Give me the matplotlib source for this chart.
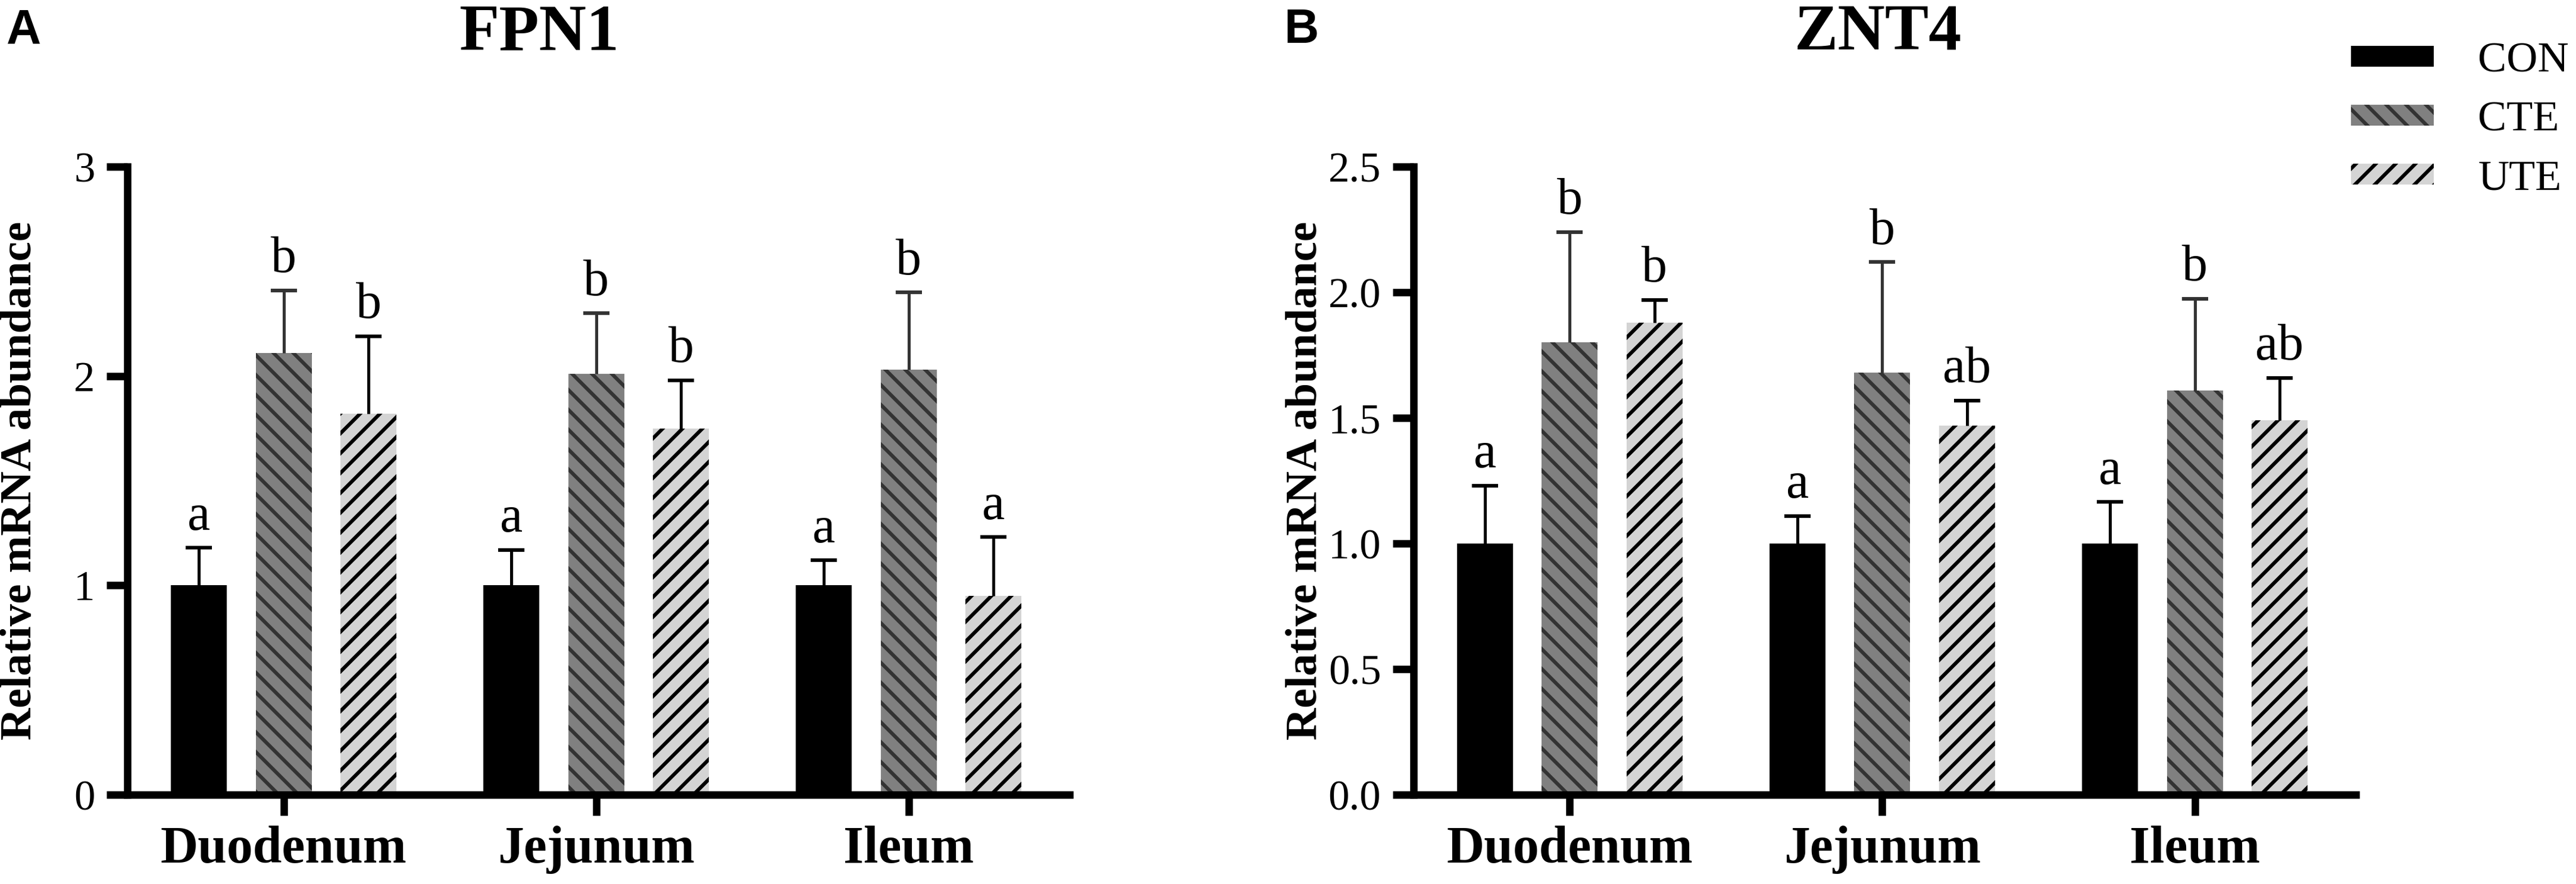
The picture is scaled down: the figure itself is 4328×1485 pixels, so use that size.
import numpy as np
import matplotlib.pyplot as plt

plt.rcParams['font.family'] = ['Liberation Serif', 'DejaVu Serif']
plt.rcParams['hatch.linewidth'] = 2.2

tissues = ['Duodenum', 'Jejunum', 'Ileum']
groups = ['CON', 'CTE', 'UTE']

# FPN1 (panel A)
fpn1_con = [1.00, 1.00, 1.00]
fpn1_cte = [2.11, 2.01, 2.03]
fpn1_ute = [1.82, 1.75, 0.95]
fpn1_con_sd = [0.18, 0.17, 0.12]
fpn1_cte_sd = [0.30, 0.29, 0.37]
fpn1_ute_sd = [0.37, 0.23, 0.28]
fpn1_con_sig = ['a', 'a', 'a']
fpn1_cte_sig = ['b', 'b', 'b']
fpn1_ute_sig = ['b', 'b', 'a']

# ZNT4 (panel B)
znt4_con = [1.00, 1.00, 1.00]
znt4_cte = [1.80, 1.68, 1.61]
znt4_ute = [1.88, 1.47, 1.49]
znt4_con_sd = [0.23, 0.11, 0.165]
znt4_cte_sd = [0.44, 0.44, 0.365]
znt4_ute_sd = [0.09, 0.10, 0.17]
znt4_con_sig = ['a', 'a', 'a']
znt4_cte_sig = ['b', 'b', 'b']
znt4_ute_sig = ['b', 'ab', 'ab']

fpn1_ticks = [0, 1, 2, 3]
fpn1_ticklabels = ['0', '1', '2', '3']
znt4_ticks = [0, 0.5, 1.0, 1.5, 2.0, 2.5]
znt4_ticklabels = ['0.0', '0.5', '1.0', '1.5', '2.0', '2.5']

styles = [
    dict(color='black', edgecolor='black', hatch=None, err='black'),
    dict(color='#808080', edgecolor='#333333', hatch='\\\\', err='#333333'),
    dict(color='#d4d4d4', edgecolor='black', hatch='//', err='black'),
]


def draw_panel(ax, means, sds, sigs, ticks, ticklabels):
    x = np.arange(len(tissues))
    offsets = [-0.2714, 0, 0.2714]
    handles = []
    for k in range(3):
        st = styles[k]
        xs = x + offsets[k]
        b = ax.bar(xs, means[k], width=0.179, color=st['color'],
                   edgecolor=st['edgecolor'], hatch=st['hatch'],
                   linewidth=0, zorder=2, label=groups[k])
        handles.append(b)
        eb = ax.errorbar(xs, means[k], yerr=[np.zeros(3), sds[k]], fmt='none',
                         ecolor=st['err'], elinewidth=1.8, capsize=8,
                         capthick=2.2, zorder=3)
        # only the upper cap is shown
        eb[1][0].set_visible(False)
        for xi, m, s, lab in zip(xs, means[k], sds[k], sigs[k]):
            ax.annotate(lab, (xi, m + s), xytext=(0, 11),
                        textcoords='offset points', ha='center',
                        va='baseline', fontsize=31)
    ax.set_xlim(-0.5, 2.515)
    ax.set_ylim(ticks[0], ticks[-1])
    ax.set_yticks(ticks)
    ax.set_yticklabels(ticklabels)
    ax.set_xticks(x)
    ax.set_xticklabels(tissues, fontweight='bold', fontsize=31.5)
    for side in ['top', 'right']:
        ax.spines[side].set_visible(False)
    for side in ['left', 'bottom']:
        ax.spines[side].set_linewidth(4.5)
    ax.tick_params(axis='both', direction='out', length=12.6, width=4.5)
    ax.tick_params(axis='y', labelsize=25.5, pad=7)
    ax.tick_params(axis='x', pad=6)
    ax.set_ylabel('Relative mRNA abundance', fontweight='bold',
                  fontsize=27, va='center')
    ax.yaxis.set_label_coords(-0.114, 0.5)
    return handles


fig = plt.figure(figsize=(21.64, 7.425), dpi=200)
ax1 = fig.add_axes([0.04945, 0.101, 0.3658, 0.7104])
ax2 = fig.add_axes([0.5487, 0.101, 0.3658, 0.7104])

draw_panel(ax1, [fpn1_con, fpn1_cte, fpn1_ute],
           [fpn1_con_sd, fpn1_cte_sd, fpn1_ute_sd],
           [fpn1_con_sig, fpn1_cte_sig, fpn1_ute_sig],
           fpn1_ticks, fpn1_ticklabels)
handles = draw_panel(ax2, [znt4_con, znt4_cte, znt4_ute],
                     [znt4_con_sd, znt4_cte_sd, znt4_ute_sd],
                     [znt4_con_sig, znt4_cte_sig, znt4_ute_sig],
                     znt4_ticks, znt4_ticklabels)

fig.text(0.2093, 0.944, 'FPN1', ha='center', va='baseline',
         fontsize=39.6, fontweight='bold')
fig.text(0.729, 0.944, 'ZNT4', ha='center', va='baseline',
         fontsize=39.6, fontweight='bold')
fig.text(0.0025, 0.9515, 'A', ha='left', va='baseline', fontsize=29,
         fontweight='bold', family='Liberation Sans')
fig.text(0.4986, 0.9515, 'B', ha='left', va='baseline', fontsize=29,
         fontweight='bold', family='Liberation Sans')

fig.legend(handles=handles, labels=groups, loc='upper left',
           bbox_to_anchor=(0.9127, 0.9526), frameon=False, fontsize=26,
           handlelength=1.92, handleheight=0.36, handletextpad=1.03,
           labelspacing=0.47, borderpad=0, borderaxespad=0)

fig.savefig('out.png', dpi=200)
